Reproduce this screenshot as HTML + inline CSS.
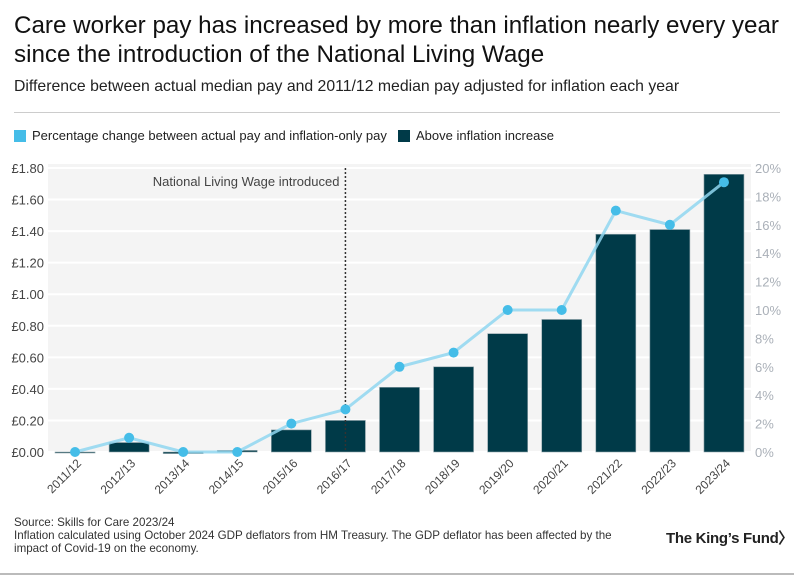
<!DOCTYPE html>
<html><head><meta charset="utf-8"><style>
body{margin:0;background:#fff;font-family:"Liberation Sans",sans-serif;}
#wrap{position:relative;width:794px;height:575px;overflow:hidden;}
.t{position:absolute;white-space:nowrap;}
</style></head><body>
<div id="wrap">
<div class="t" style="left:14px;top:11px;font-size:24.2px;line-height:29px;color:#111;">Care worker pay has increased by more than inflation nearly every year<br>since the introduction of the National Living Wage</div>
<div class="t" style="left:14px;top:78px;font-size:15.8px;color:#222;">Difference between actual median pay and 2011/12 median pay adjusted for inflation each year</div>
<div style="position:absolute;left:14px;top:112px;width:766px;height:1px;background:#ccc;"></div>
<div class="t" style="left:14px;top:128px;font-size:13px;color:#222;"><span style="display:inline-block;width:12px;height:12px;background:#45bde8;vertical-align:-2px;margin-right:6px;"></span>Percentage change between actual pay and inflation-only pay</div>
<div class="t" style="left:398px;top:128px;font-size:13px;color:#222;"><span style="display:inline-block;width:12px;height:12px;background:#003a48;vertical-align:-2px;margin-right:6px;"></span>Above inflation increase</div>
<svg id="chart" width="794" height="575" style="position:absolute;left:0;top:0;" font-family="Liberation Sans, sans-serif"></svg>
<div class="t" style="left:14px;top:516px;font-size:11.6px;line-height:13px;color:#333;">Source: Skills for Care 2023/24<br>Inflation calculated using October 2024 GDP deflators from HM Treasury. The GDP deflator has been affected by the<br>impact of Covid-19 on the economy.</div>
<div class="t" style="left:666px;top:527px;font-size:15px;font-weight:bold;color:#222;letter-spacing:-0.3px;">The King’s Fund〉</div>
<div style="position:absolute;left:0;top:573px;width:794px;height:2px;background:#bbb;"></div>
</div>
<script>
const categories=["2011/12","2012/13","2013/14","2014/15","2015/16","2016/17","2017/18","2018/19","2019/20","2020/21","2021/22","2022/23","2023/24"];
const barValues=[0,0.06,-0.01,0.01,0.14,0.20,0.41,0.54,0.75,0.84,1.38,1.41,1.76];
const pctValues=[0,1,0,0,2,3,6,7,10,10,17,16,19];
const leftTicks=[0,0.2,0.4,0.6,0.8,1.0,1.2,1.4,1.6,1.8];
const rightTicks=[0,2,4,6,8,10,12,14,16,18,20];
const NS="http://www.w3.org/2000/svg";
const svg=document.getElementById('chart');
const X0=48,X1=751,Y0=452,Y1=168;
const band=(X1-X0)/categories.length;
const xC=i=>X0+band*(i+0.5);
const yL=v=>Y0-(v/1.8)*(Y0-Y1);
const yR=v=>Y0-(v/20)*(Y0-Y1);
function mk(tag,attrs,parent){const e=document.createElementNS(NS,tag);for(const k in attrs)e.setAttribute(k,attrs[k]);(parent||svg).appendChild(e);return e;}
const bg=mk('rect',{x:X0,y:Y1-4,width:X1-X0,height:Y0-Y1+4,fill:'#f4f4f4'});


leftTicks.forEach(v=>{
 const g=mk('line',{x1:X0,x2:X1,y1:yL(v),y2:yL(v),stroke:'#fff','stroke-width':2});
 
 
 const t=mk('text',{x:44,y:yL(v)+5,'text-anchor':'end','font-size':13,fill:'#444'});
 t.textContent='£'+v.toFixed(2);
 
 
});
rightTicks.forEach(v=>{
 const t=mk('text',{x:755,y:yR(v)+5,'font-size':13,fill:'#aab0b8'});
 t.textContent=v+'%';
 
 
});
const bw=40;
barValues.forEach((v,i)=>{
 const y=Math.min(yL(v),yL(0)),h=Math.max(Math.abs(yL(v)-yL(0)),1);
 const r=mk('rect',{x:xC(i)-bw/2,y:y,width:bw,height:h,fill:'#003a48',stroke:'#8fa3aa','stroke-width':0.6});
 
 
});
categories.forEach((c,i)=>{
 const t=mk('text',{x:xC(i)+7,y:464,'text-anchor':'end','font-size':12,fill:'#444',transform:`rotate(-45 ${xC(i)+7} 464)`});
 t.textContent=c;
 
 
});
const nx=xC(5);
const vl=mk('line',{x1:nx,x2:nx,y1:168,y2:452,stroke:'#333','stroke-width':1.5,'stroke-dasharray':'2,2'});


const nt=mk('text',{x:nx-6,y:186,'text-anchor':'end','font-size':13,fill:'#444'});
nt.textContent='National Living Wage introduced';


const pl=mk('polyline',{points:pctValues.map((v,i)=>xC(i)+','+yR(v)).join(' '),fill:'none',stroke:'#8fd6f0','stroke-width':3,'stroke-opacity':0.85});


pctValues.forEach((v,i)=>{
 const c=mk('circle',{cx:xC(i),cy:yR(v),r:5,fill:'#45bde8'});
 
 
});
</script>
</body></html>
